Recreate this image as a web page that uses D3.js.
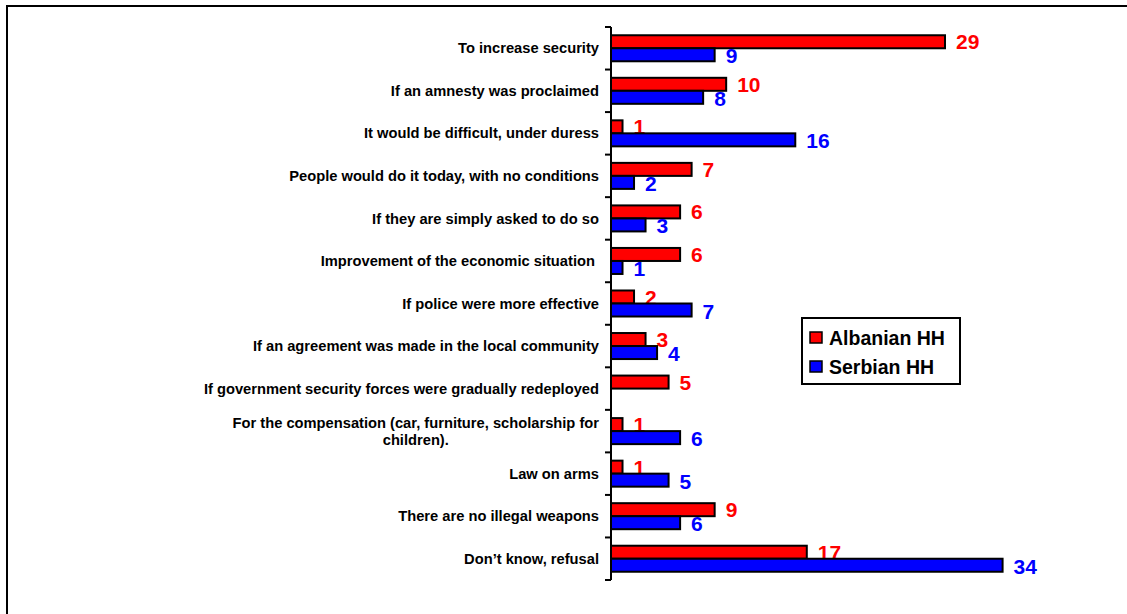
<!DOCTYPE html>
<html>
<head>
<meta charset="utf-8">
<script src="https://cdn.jsdelivr.net/npm/d3@7"></script>
<style>
  html, body { margin: 0; padding: 0; background: #fff; }
  svg { display: block; font-family: "Liberation Sans", Arial, sans-serif; }
</style>
</head>
<body>
<svg id="chart" width="1127" height="614"></svg>
<script>
const categories = [
  "To increase security",
  "If an amnesty was proclaimed",
  "It would be difficult, under duress",
  "People would do it today, with no conditions",
  "If they are simply asked to do so",
  "Improvement of the economic situation ",
  "If police were more effective",
  "If an agreement was made in the local community",
  "If government security forces were gradually redeployed",
  "For the compensation (car, furniture, scholarship for children).",
  "Law on arms",
  "There are no illegal weapons",
  "Don\u2019t know, refusal"
];
const albanian = [29, 10, 1, 7, 6, 6, 2, 3, 5, 1, 1, 9, 17];
const serbian  = [9, 8, 16, 2, 3, 1, 7, 4, null, 6, 5, 6, 34];
const seriesNames = ["Albanian HH", "Serbian HH"];
const seriesColors = ["#ff0000", "#0000ff"];
const wrappedLines = {
  "For the compensation (car, furniture, scholarship for children).":
    ["For the compensation (car, furniture, scholarship for", "children)."]
};

const svg = d3.select("#chart");

// outer frame
svg.append("rect")
  .attr("x", 7).attr("y", 6).attr("width", 1140).attr("height", 640)
  .attr("fill", "none").attr("stroke", "#000").attr("stroke-width", 2);

const x0 = 611;
const x = d3.scaleLinear().domain([0, 34]).range([x0, x0 + 34 * (334 / 29)]);
const y = d3.scaleBand().domain(categories).range([27, 580]).padding(0);
const ySub = d3.scaleBand().domain([0, 1]).range([0, y.bandwidth()])
  .paddingInner(0).paddingOuter(0.635);

const data = [albanian, serbian];

// bars
data.forEach((vals, s) => {
  const g = svg.append("g");
  const rows = categories.map((c, i) => ({ c, v: vals[i] })).filter(d => d.v != null);
  g.selectAll("rect")
    .data(rows)
    .join("rect")
    .attr("x", x(0))
    .attr("y", d => y(d.c) + ySub(s))
    .attr("width", d => x(d.v) - x(0))
    .attr("height", ySub.bandwidth())
    .attr("fill", seriesColors[s])
    .attr("stroke", "#000")
    .attr("stroke-width", 2);
  g.selectAll("text")
    .data(rows)
    .join("text")
    .attr("x", d => x(d.v) + 11)
    .attr("y", d => y(d.c) + ySub(s) + ySub.bandwidth() / 2 + (s === 0 ? 0 : 1))
    .attr("dy", "0.36em")
    .attr("fill", seriesColors[s])
    .attr("font-weight", "bold")
    .attr("font-size", 21)
    .text(d => d.v);
});

// axis line + ticks at band boundaries
const axisG = svg.append("g");
axisG.append("line")
  .attr("x1", x0).attr("x2", x0)
  .attr("y1", y.range()[0]).attr("y2", y.range()[1])
  .attr("stroke", "#000").attr("stroke-width", 2);
const bounds = categories.map(c => y(c)).concat([y.range()[1]]);
axisG.selectAll("line.tick")
  .data(bounds)
  .join("line")
  .attr("class", "tick")
  .attr("x1", x0 - 6).attr("x2", x0)
  .attr("y1", d => d).attr("y2", d => d)
  .attr("stroke", "#000").attr("stroke-width", 2);

// category labels
const labelRight = 599;
const lab = svg.append("g")
  .attr("font-weight", "bold")
  .attr("font-size", 14.7)
  .attr("fill", "#000");
categories.forEach(c => {
  const cy = y(c) + y.bandwidth() / 2;
  const lines = wrappedLines[c];
  if (!lines) {
    lab.append("text")
      .attr("x", labelRight).attr("y", cy).attr("dy", "0.35em")
      .attr("text-anchor", "end")
      .style("white-space", "pre")
      .text(c);
  } else {
    const t = lab.append("text").attr("text-anchor", "middle");
    const spacing = 17.5;
    lines.forEach((ln, k) => {
      t.append("tspan")
        .attr("y", cy + (k - (lines.length - 1) / 2) * spacing)
        .attr("dy", "0.35em")
        .text(ln);
    });
    let maxW = 0;
    t.selectAll("tspan").each(function () {
      maxW = Math.max(maxW, this.getComputedTextLength());
    });
    t.selectAll("tspan").attr("x", labelRight - maxW / 2);
  }
});

// legend
const leg = svg.append("g");
leg.append("rect")
  .attr("x", 802).attr("y", 318).attr("width", 158).attr("height", 66)
  .attr("fill", "#fff").attr("stroke", "#000").attr("stroke-width", 2);
seriesNames.forEach((n, i) => {
  const ly = 337.5 + i * 29;
  leg.append("rect")
    .attr("x", 810).attr("y", ly - 5.5).attr("width", 12).attr("height", 11)
    .attr("fill", seriesColors[i]).attr("stroke", "#000").attr("stroke-width", 1.5);
  leg.append("text")
    .attr("x", 829).attr("y", ly).attr("dy", "0.36em")
    .attr("font-weight", "bold").attr("font-size", 19.5)
    .text(n);
});
</script>
</body>
</html>
